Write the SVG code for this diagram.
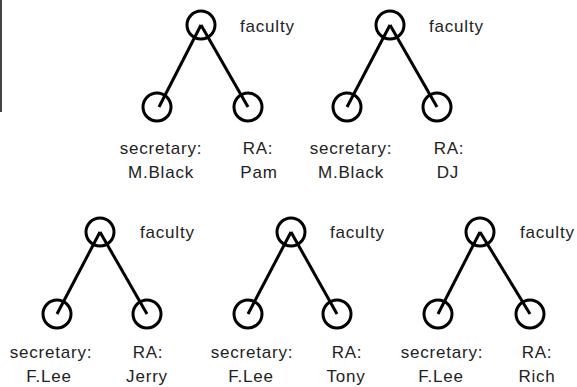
<svg xmlns="http://www.w3.org/2000/svg" width="577" height="387" viewBox="0 0 577 387">
<style>
.n{fill:none;stroke:#000;stroke-width:3}
.e{stroke:#000;stroke-width:3;fill:none}
text{font-family:"Liberation Sans",Arial,sans-serif;font-size:17px;fill:#222;letter-spacing:0.8px}
.m{text-anchor:middle}
</style>
<rect width="577" height="387" fill="#fff"/>
<line x1="1" y1="0" x2="1" y2="112" stroke="#444" stroke-width="2"/>
<g id="connectors">
<line class="e" x1="201" y1="25" x2="159" y2="107"/>
<line class="e" x1="201" y1="25" x2="248" y2="107"/>
<line class="e" x1="390" y1="25" x2="347" y2="107"/>
<line class="e" x1="390" y1="25" x2="437" y2="107"/>
<line class="e" x1="100" y1="232" x2="57" y2="314"/>
<line class="e" x1="100" y1="232" x2="147" y2="314"/>
<line class="e" x1="291" y1="232" x2="248" y2="314"/>
<line class="e" x1="291" y1="232" x2="337" y2="314"/>
<line class="e" x1="480" y1="232" x2="438" y2="314"/>
<line class="e" x1="480" y1="232" x2="530" y2="314"/>
</g>
<g id="f1"><circle class="n" cx="201" cy="25" r="14"/><text x="240" y="32">faculty</text></g>
<g id="s1"><circle class="n" cx="157" cy="107" r="14"/><text class="m" x="161" y="154">secretary:</text><text class="m" x="161" y="178">M.Black</text></g>
<g id="r1"><circle class="n" cx="248" cy="107" r="14"/><text class="m" x="258" y="154">RA:</text><text class="m" x="259" y="178">Pam</text></g>
<g id="f2"><circle class="n" cx="390" cy="25" r="14"/><text x="429" y="32">faculty</text></g>
<g id="s2"><circle class="n" cx="347" cy="107" r="14"/><text class="m" x="351" y="154">secretary:</text><text class="m" x="351" y="178">M.Black</text></g>
<g id="r2"><circle class="n" cx="437" cy="107" r="14"/><text class="m" x="449" y="154">RA:</text><text class="m" x="448" y="178">DJ</text></g>
<g id="f3"><circle class="n" cx="100" cy="232" r="14"/><text x="140" y="238">faculty</text></g>
<g id="s3"><circle class="n" cx="57" cy="314" r="14"/><text class="m" x="51" y="358">secretary:</text><text class="m" x="49" y="382">F.Lee</text></g>
<g id="r3"><circle class="n" cx="147" cy="314" r="14"/><text class="m" x="148" y="358">RA:</text><text class="m" x="147" y="382">Jerry</text></g>
<g id="f4"><circle class="n" cx="291" cy="232" r="14"/><text x="330" y="238">faculty</text></g>
<g id="s4"><circle class="n" cx="248" cy="314" r="14"/><text class="m" x="252" y="358">secretary:</text><text class="m" x="251" y="382">F.Lee</text></g>
<g id="r4"><circle class="n" cx="337" cy="314" r="14"/><text class="m" x="347" y="358">RA:</text><text class="m" x="346" y="382">Tony</text></g>
<g id="f5"><circle class="n" cx="480" cy="232" r="14"/><text x="520" y="238">faculty</text></g>
<g id="s5"><circle class="n" cx="438" cy="314" r="14"/><text class="m" x="442" y="358">secretary:</text><text class="m" x="441" y="382">F.Lee</text></g>
<g id="r5"><circle class="n" cx="530" cy="314" r="14"/><text class="m" x="537" y="358">RA:</text><text class="m" x="537" y="382">Rich</text></g>
</svg>
